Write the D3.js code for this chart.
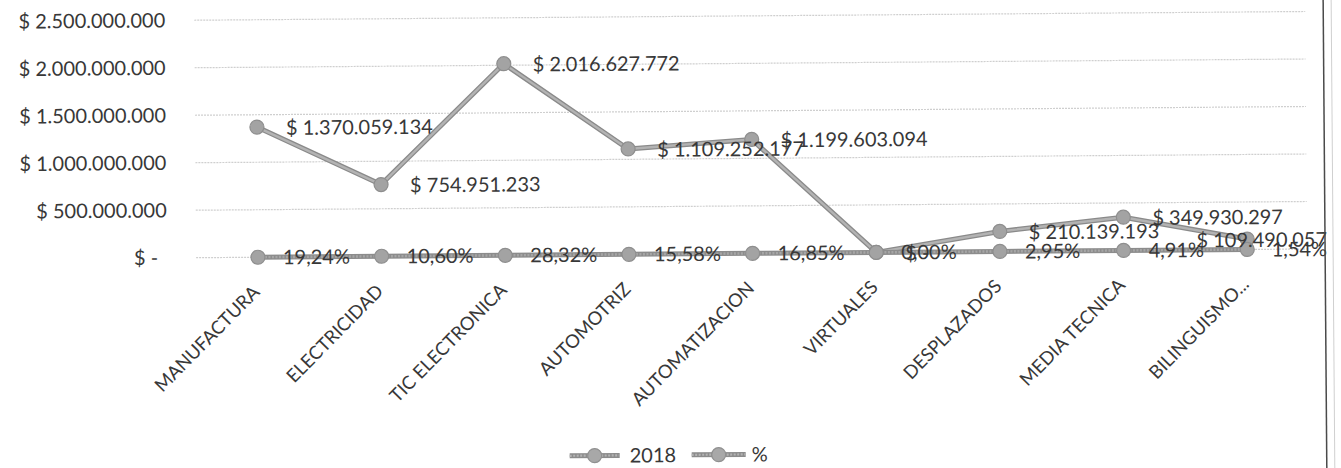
<!DOCTYPE html>
<html>
<head>
<meta charset="utf-8">
<script src="https://cdn.jsdelivr.net/npm/d3@7"></script>
<style>
  html, body { margin: 0; padding: 0; background: #fff; }
  svg { display: block; }
  text { font-family: Lato, "Open Sans", sans-serif; fill: #383838; }
</style>
</head>
<body>
<svg id="chart" width="1341" height="468"></svg>
<script>
// Programas de formación y presupuesto 2018
const categories = ["MANUFACTURA", "ELECTRICIDAD", "TIC ELECTRONICA", "AUTOMOTRIZ",
  "AUTOMATIZACION", "VIRTUALES", "DESPLAZADOS", "MEDIA TECNICA", "BILINGUISMO..."];
const values2018 = [1370059134, 754951233, 2016627772, 1109252177, 1199603094,
  0, 210139193, 349930297, 109490057];
const percentShare = [0.1924, 0.1060, 0.2832, 0.1558, 0.1685, 0, 0.0295, 0.0491, 0.0154];
const yTicks = [0, 500000000, 1000000000, 1500000000, 2000000000, 2500000000];
const seriesNames = ["2018", "%"];

const W = 1341, H = 468;
const plot = { left: 196, right: 1309, top: 16.5, bottom: 254 };
const frameX = 1325;
const labelSize = 20;

const loc = d3.formatLocale({ decimal: ",", thousands: ".", grouping: [3], currency: ["$ ", ""] });
const money = v => v === 0 ? "$ -" : "$ " + loc.format(",d")(v);
const pct = loc.format(".2%");

const svg = d3.select("#chart");
svg.append("rect").attr("width", W).attr("height", H).attr("fill", "#fff");

// whole sheet sits with a slight tilt
const g = svg.append("g").attr("transform", "rotate(-0.45 670 240)");

const x = d3.scalePoint().domain(categories).range([plot.left, plot.right]).padding(0.5);
const y = d3.scaleLinear().domain([0, 2500000000]).range([plot.bottom, plot.top]);

// horizontal gridlines
g.append("g").selectAll("line").data(yTicks).join("line")
  .attr("x1", plot.left).attr("x2", 1307)
  .attr("y1", d => y(d)).attr("y2", d => y(d))
  .attr("stroke", "#cfcfcf").attr("stroke-width", 1.2).attr("stroke-dasharray", "2,1");

// value axis
const yAxis = g.append("g").attr("transform", `translate(${plot.left},0)`)
  .call(d3.axisLeft(y).tickValues(yTicks).tickSize(0).tickPadding(29).tickFormat(money));
yAxis.select(".domain").remove();
yAxis.selectAll("text").attr("font-size", labelSize).attr("fill", "#383838")
  .style("font-family", "Lato, sans-serif")
  .attr("x", d => d === 0 ? -38 : -29);

// category labels, rotated
const xAxis = g.append("g").attr("transform", `translate(0,${plot.bottom})`)
  .call(d3.axisBottom(x).tickSize(0).tickPadding(0));
xAxis.select(".domain").remove();
xAxis.selectAll("text")
  .attr("font-size", 18.5).attr("fill", "#383838").style("font-family", "Lato, sans-serif")
  .attr("text-anchor", "end").attr("y", 0).attr("dy", 0)
  .attr("transform", "translate(2,36) rotate(-45)");

// series drawing helpers
const line = d3.line().x((d, i) => x(categories[i])).y(d => y(d));

function drawSeries(data, outer, inner, dash) {
  const s = g.append("g");
  s.append("path").datum(data).attr("d", line).attr("fill", "none")
    .attr("stroke", outer).attr("stroke-width", 5).attr("stroke-linejoin", "round");
  s.append("path").datum(data).attr("d", line).attr("fill", "none")
    .attr("stroke", inner).attr("stroke-width", 2.4).attr("stroke-linejoin", "round")
    .attr("stroke-dasharray", dash);
  s.selectAll("circle").data(data).join("circle")
    .attr("cx", (d, i) => x(categories[i])).attr("cy", d => y(d)).attr("r", 7)
    .attr("fill", "#a3a3a3").attr("stroke", "#8e8e8e").attr("stroke-width", 1.2);
  return s;
}

drawSeries(values2018, "#8a8a8a", "#b3b3b3", null);
drawSeries(percentShare, "#8c8c8c", "#a6a6a6", "2,1.5");

// data labels to the right of each point, pulled back inside the frame when needed
function placeLabels(data, fmt, offset, dy) {
  g.append("g").selectAll("text").data(data).join("text")
    .attr("x", (d, i) => x(categories[i]) + offset).attr("y", d => y(d)).attr("dy", dy)
    .attr("font-size", labelSize).text(d => fmt(d))
    .each(function () {
      const t = d3.select(this);
      const w = this.getComputedTextLength();
      const x0 = +t.attr("x");
      if (x0 + w > frameX + 2) t.attr("x", frameX + 2 - w);
    });
}
placeLabels(percentShare, pct, 25, "0.36em");
placeLabels(values2018, money, 29, "0.4em");

// legend
const legend = g.append("g").attr("transform", "translate(0,455)");
const legendItems = [
  { name: seriesNames[0], x0: 568, x1: 618, tx: 628 },
  { name: seriesNames[1], x0: 690, x1: 744, tx: 750 }
];
legendItems.forEach(it => {
  legend.append("line").attr("x1", it.x0).attr("x2", it.x1).attr("y1", 0).attr("y2", 0)
    .attr("stroke", "#8c8c8c").attr("stroke-width", 5);
  legend.append("line").attr("x1", it.x0).attr("x2", it.x1).attr("y1", 0).attr("y2", 0)
    .attr("stroke", "#b3b3b3").attr("stroke-width", 2.2).attr("stroke-dasharray", "2,1.5");
  legend.append("circle").attr("cx", (it.x0 + it.x1) / 2).attr("cy", 0).attr("r", 7)
    .attr("fill", "#a8a8a8").attr("stroke", "#909090").attr("stroke-width", 1.2);
  legend.append("text").attr("x", it.tx).attr("y", 0).attr("dy", "0.36em")
    .attr("font-size", labelSize).text(it.name);
});

// chart frame edge
g.append("line").attr("x1", frameX).attr("x2", frameX).attr("y1", -10).attr("y2", H + 10)
  .attr("stroke", "#4a4a4a").attr("stroke-width", 1.5);
g.append("line").attr("x1", frameX + 8).attr("x2", frameX + 8).attr("y1", -10).attr("y2", H + 10)
  .attr("stroke", "#d0d0d0").attr("stroke-width", 1);
</script>
</body>
</html>
